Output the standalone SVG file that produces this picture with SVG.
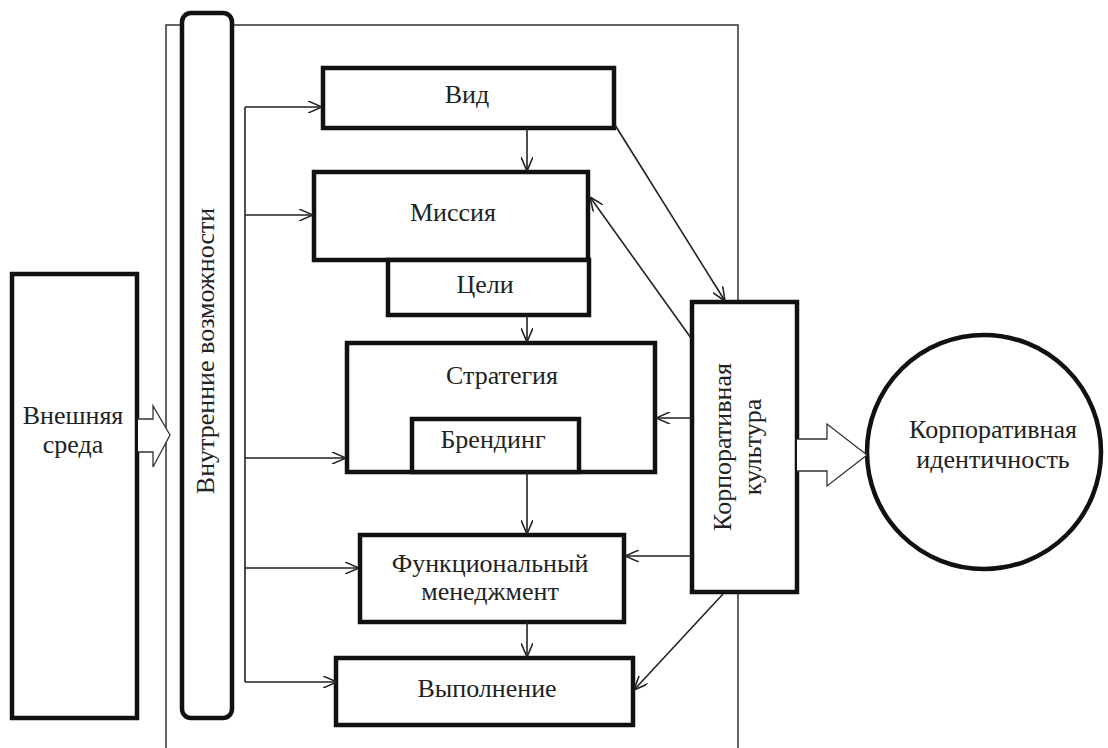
<svg xmlns="http://www.w3.org/2000/svg" width="1108" height="748" viewBox="0 0 1108 748">
<style>
.box{fill:#fff;stroke:#111;stroke-width:4.5}
.t{font-family:'Liberation Serif','Times New Roman',serif;font-size:26px;fill:#222;text-anchor:middle}
.c{fill:none;stroke:#222;stroke-width:1.6}
.blk{fill:#fff;stroke:#333;stroke-width:1.3}
</style>
<defs>
<marker id="a" viewBox="0 0 14 12" refX="14" refY="6" markerWidth="14" markerHeight="12" markerUnits="userSpaceOnUse" orient="auto">
<path d="M0,0 L14,6 L0,12" fill="none" stroke="#222" stroke-width="1.6"/>
</marker>
</defs>
<g id="frame"><path d="M166,748 V25 H738 V748" fill="none" stroke="#333" stroke-width="1.5"/></g>
<g id="external"><rect class="box" x="12" y="274" width="125" height="444"/><text class="t" x="73" y="424">Внешняя</text><text class="t" x="73" y="453">среда</text></g>
<g id="internal"><rect class="box" x="182" y="13" width="50" height="705" rx="9"/><text class="t" transform="translate(214,351) rotate(-90)">Внутренние возможности</text></g>
<g id="vid"><rect class="box" x="323" y="68" width="291" height="60"/><text class="t" x="467" y="103">Вид</text></g>
<g id="mission"><rect class="box" x="314" y="172" width="274" height="88"/><text class="t" x="453" y="221">Миссия</text></g>
<g id="goals"><rect class="box" x="388" y="260" width="201" height="55"/><text class="t" x="485" y="293">Цели</text></g>
<g id="strategy"><rect class="box" x="347" y="343" width="308" height="129"/><text class="t" x="502" y="384">Стратегия</text></g>
<g id="branding"><rect class="box" x="412" y="419" width="167" height="53"/><text class="t" x="493" y="448">Брендинг</text></g>
<g id="func"><rect class="box" x="360" y="535" width="264" height="87"/><text class="t" x="490" y="572">Функциональный</text><text class="t" x="490" y="600">менеджмент</text></g>
<g id="exec"><rect class="box" x="336" y="658" width="297" height="67"/><text class="t" x="487" y="697">Выполнение</text></g>
<g id="culture"><rect class="box" x="692" y="302" width="105" height="290"/><text class="t" transform="translate(731,447) rotate(-90)">Корпоративная</text><text class="t" transform="translate(761,447) rotate(-90)">культура</text></g>
<g id="identity"><circle cx="984" cy="452" r="117" fill="#fff" stroke="#111" stroke-width="4.5"/><text class="t" x="993" y="438">Корпоративная</text><text class="t" x="993" y="468">идентичность</text></g>
<g id="connectors">
<path class="blk" d="M138,419 H153 V406 L170,435 L153,467 V452 H138"/>
<path class="blk" d="M797,439 H827 V424 L867,455 L827,486 V471 H797"/>
<path class="c" d="M245,107 V682"/>
<path class="c" d="M245,107 H322" marker-end="url(#a)"/>
<path class="c" d="M245,215 H313" marker-end="url(#a)"/>
<path class="c" d="M245,458 H346" marker-end="url(#a)"/>
<path class="c" d="M245,568 H359" marker-end="url(#a)"/>
<path class="c" d="M245,682 H337" marker-end="url(#a)"/>
<path class="c" d="M527,128 V171" marker-end="url(#a)"/>
<path class="c" d="M527,315 V342" marker-end="url(#a)"/>
<path class="c" d="M527,472 V534" marker-end="url(#a)"/>
<path class="c" d="M527,622 V657" marker-end="url(#a)"/>
<path class="c" d="M615,125 L725,301" marker-end="url(#a)"/>
<path class="c" d="M691,338 L590,197" marker-end="url(#a)"/>
<path class="c" d="M692,418 H656" marker-end="url(#a)"/>
<path class="c" d="M692,556 H625" marker-end="url(#a)"/>
<path class="c" d="M723,594 L634,690" marker-end="url(#a)"/>
</g>
</svg>
